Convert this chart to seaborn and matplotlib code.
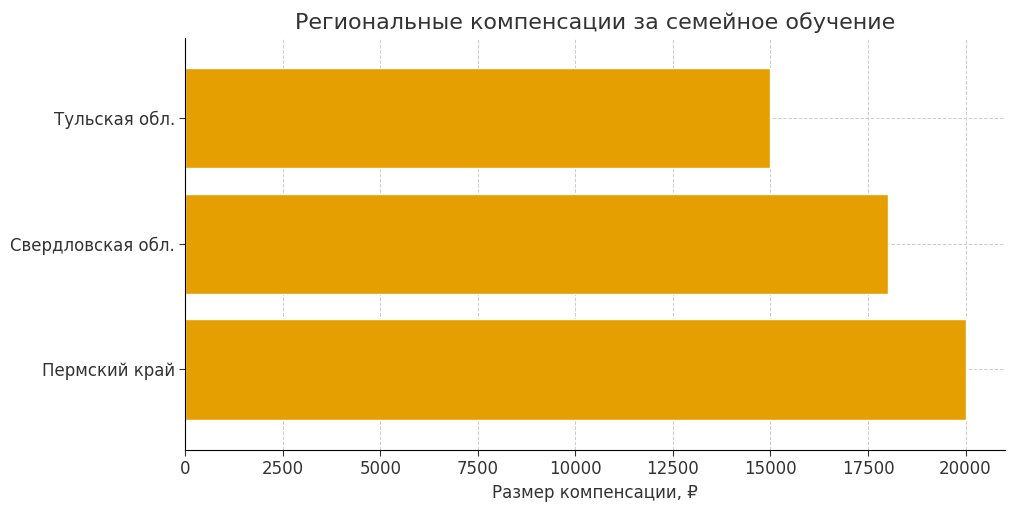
import matplotlib
matplotlib.use("Agg")
import matplotlib.pyplot as plt
import seaborn as sns
import pandas as pd

regions = ["Пермский край", "Свердловская обл.", "Тульская обл."]
values = [20000, 18000, 15000]

sns.set_style("white")
plt.rcParams['font.family'] = ['DejaVu Sans']
fig = plt.figure(figsize=(10.24, 5.11), dpi=100)
ax = fig.add_axes([0.181, 0.12, 0.8, 0.806])
df = pd.DataFrame({"region": regions, "value": values})
order = regions[::-1]
sns.barplot(data=df, y="region", x="value", order=order, color="#E69F00",
            saturation=1, width=0.8, ax=ax)
ax.set_xlim(0, 21000)
ax.set_ylim(2.5 + 0.14, -0.5 - 0.14)
ax.grid(True, linestyle="--", color="#cccccc", linewidth=0.7)
ax.set_axisbelow(True)
for s in ["top", "right"]:
    ax.spines[s].set_visible(False)
for s in ["left", "bottom"]:
    ax.spines[s].set_color("black")
ax.set_title("Региональные компенсации за семейное обучение", fontsize=16, color="#333333")
ax.set_xlabel("Размер компенсации, ₽", fontsize=12, color="#333333")
ax.set_ylabel("")
ax.tick_params(axis="both", labelsize=12, colors="#333333", length=4, left=True, bottom=True)
fig.savefig("out.png", dpi=100)
